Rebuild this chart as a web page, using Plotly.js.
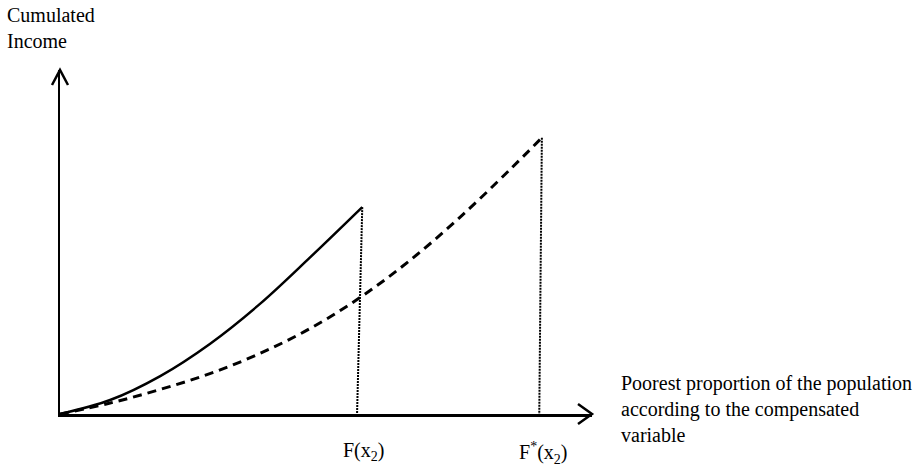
<!DOCTYPE html>
<html>
<head>
<meta charset="utf-8">
<script src="https://cdn.plot.ly/plotly-3.0.1.min.js"></script>
<style>html,body{margin:0;padding:0;background:#fff;}#chart{width:914px;height:466px;}</style>
</head>
<body>
<div id="chart"></div>
<script>
// Population share (x) and cumulated income (y)
const solidX = [0, 0.096, 0.192, 0.287, 0.383, 0.479, 0.579];
const solidY = [0, 0.041, 0.111, 0.205, 0.322, 0.458, 0.605];
const dashedX = [0, 0.096, 0.192, 0.287, 0.383, 0.479, 0.575, 0.670, 0.766, 0.862, 0.923];
const dashedY = [0, 0.032, 0.072, 0.118, 0.177, 0.250, 0.341, 0.449, 0.575, 0.715, 0.808];
const drop1X = [0.579, 0.569];
const drop1Y = [0.605, 0];
const drop2X = [0.923, 0.918];
const drop2Y = [0.808, 0];
const tickLabels = ['F(x<sub>2</sub>)', 'F<sup>*</sup>(x<sub>2</sub>)'];
const tickX = [0.581, 0.926];
const yTitle = 'Cumulated<br>Income';
const xTitle = 'Poorest proportion of the population<br>according to the compensated<br>variable';

const font = {family: 'Liberation Serif, Times New Roman, serif', size: 20, color: '#000'};

const traces = [
  {x: solidX, y: solidY, mode: 'lines', line: {color: '#000', width: 2.5, shape: 'spline', smoothing: 1}, hoverinfo: 'skip'},
  {x: dashedX, y: dashedY, mode: 'lines', line: {color: '#000', width: 3, dash: '9px,6px', shape: 'spline', smoothing: 1}, hoverinfo: 'skip'},
  {x: drop1X, y: drop1Y, mode: 'lines', line: {color: '#000', width: 2, dash: '2px,1px'}, hoverinfo: 'skip'},
  {x: drop2X, y: drop2Y, mode: 'lines', line: {color: '#000', width: 2, dash: '2px,1px'}, hoverinfo: 'skip'}
];

const annotations = tickLabels.map((t, i) => ({
  x: tickX[i], xref: 'x', y: 0, yref: 'paper', yanchor: 'top', yshift: -23,
  text: t, showarrow: false, font: font
}));
annotations.push({x: 0, xref: 'paper', xanchor: 'left', xshift: -55, y: 1, yref: 'paper', yanchor: 'bottom', yshift: 16,
  text: yTitle, align: 'left', showarrow: false, font: font});
annotations.push({x: 1, xref: 'paper', xanchor: 'left', xshift: 27, y: 0, yref: 'paper', yanchor: 'middle', yshift: 5,
  text: xTitle, align: 'left', showarrow: false, font: font});

const layout = {
  width: 914, height: 466,
  margin: {l: 60, r: 322, t: 70, b: 52},
  paper_bgcolor: '#fff', plot_bgcolor: '#fff',
  showlegend: false,
  xaxis: {range: [0, 1.019], showgrid: false, zeroline: false, showticklabels: false, ticks: '',
          showline: true, linecolor: '#000', linewidth: 2.5, fixedrange: true},
  yaxis: {range: [0, 1.006], showgrid: false, zeroline: false, showticklabels: false, ticks: '',
          showline: true, linecolor: '#000', linewidth: 2.5, fixedrange: true},
  annotations: annotations,
  shapes: [
    {type: 'path', xref: 'paper', yref: 'paper', xsizemode: 'pixel', ysizemode: 'pixel', xanchor: 1, yanchor: 0,
     path: 'M -14,10 L 0,0 L -14,-10', line: {color: '#000', width: 2.5}},
    {type: 'path', xref: 'paper', yref: 'paper', xsizemode: 'pixel', ysizemode: 'pixel', xanchor: 0, yanchor: 1,
     path: 'M -8,-15 L 0,0 L 8,-15', line: {color: '#000', width: 2.5}}
  ]
};

Plotly.newPlot('chart', traces, layout, {displayModeBar: false, staticPlot: true});
</script>
</body>
</html>
